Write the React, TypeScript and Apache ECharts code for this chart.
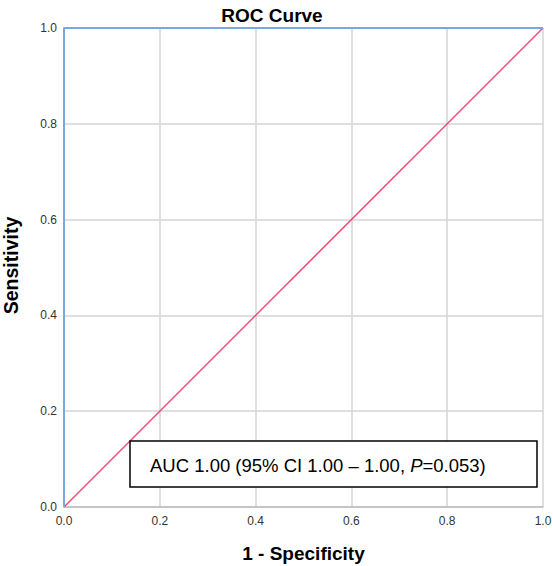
import React, { useEffect, useRef } from "react";
import * as echarts from "echarts";

const TITLE = "ROC Curve";
const X_NAME = "1 - Specificity";
const Y_NAME = "Sensitivity";
const ROC_X = [0, 0, 1];
const ROC_Y = [0, 1, 1];
const REF_X = [0, 1];
const REF_Y = [0, 1];
const AUC_TEXT_A = "AUC 1.00 (95% CI 1.00 – 1.00, ";
const AUC_TEXT_P = "P";
const AUC_TEXT_B = "=0.053)";

export default function App() {
  const ref = useRef<HTMLDivElement>(null);
  useEffect(() => {
    if (!ref.current) return;
    const chart = echarts.init(ref.current, undefined, { renderer: "svg" });
    const font = "Liberation Sans, Arial, sans-serif";
    chart.setOption({
      animation: false,
      backgroundColor: "#ffffff",
      title: {
        text: TITLE,
        left: 267,
        textAlign: "center",
        top: 1,
        textStyle: { fontFamily: font, fontSize: 19, fontWeight: "bold", color: "#000" },
      },
      grid: { left: 64, right: 10, top: 28, bottom: 59, outerBoundsMode: "none", containLabel: false },
      xAxis: {
        type: "value",
        min: 0,
        max: 1,
        interval: 0.2,
        name: X_NAME,
        nameLocation: "middle",
        nameGap: 37,
        nameTextStyle: { fontFamily: font, fontSize: 19, fontWeight: "bold", color: "#000" },
        axisLine: { show: true, lineStyle: { color: "#bdbdbd", width: 1.5 } },
        axisTick: { show: false },
        axisLabel: {
          fontFamily: font,
          fontSize: 12,
          color: "#333",
          margin: 8,
          formatter: (v: number) => v.toFixed(1),
        },
        splitLine: { show: true, lineStyle: { color: "#d4d4d4", width: 1.5 } },
      },
      yAxis: {
        type: "value",
        min: 0,
        max: 1,
        interval: 0.2,
        name: Y_NAME,
        nameLocation: "middle",
        nameGap: 43,
        nameTextStyle: {
          fontFamily: font,
          fontSize: 19.5,
          fontWeight: "bold",
          color: "#000",
          padding: [0, 0, 0, 4],
        },
        axisLine: { show: true, lineStyle: { color: "#bdbdbd", width: 1.5 } },
        axisTick: { show: false },
        axisLabel: {
          fontFamily: font,
          fontSize: 12,
          color: "#333",
          margin: 7,
          formatter: (v: number) => v.toFixed(1),
        },
        splitLine: { show: true, lineStyle: { color: "#d4d4d4", width: 1.5 } },
      },
      series: [
        {
          type: "line",
          data: REF_X.map((x, i) => [x, REF_Y[i]]),
          symbol: "none",
          clip: false,
          lineStyle: { color: "#ec4a72", width: 1.5 },
          z: 3,
        },
        {
          type: "line",
          data: ROC_X.map((x, i) => [x, ROC_Y[i]]),
          symbol: "none",
          clip: false,
          lineStyle: { color: "#7ba7e0", width: 2 },
          z: 4,
        },
      ],
      graphic: [
        {
          type: "rect",
          shape: { x: 130, y: 441, width: 407, height: 46 },
          style: { fill: "#fff", stroke: "#000", lineWidth: 1.5 },
          z: 100,
        },
        {
          type: "text",
          x: 150,
          y: 465,
          z: 101,
          style: {
            text: `{n|${AUC_TEXT_A}}{i|${AUC_TEXT_P}}{n|${AUC_TEXT_B}}`,
            verticalAlign: "middle",
            rich: {
              n: { fontFamily: font, fontSize: 18.5, fill: "#000" },
              i: { fontFamily: font, fontSize: 18.5, fontStyle: "italic", fill: "#000" },
            },
          },
        },
      ],
    });
    return () => chart.dispose();
  }, []);
  return (
    <div
      ref={ref}
      style={{ position: "fixed", left: 0, top: 0, width: 553, height: 566 }}
    />
  );
}
